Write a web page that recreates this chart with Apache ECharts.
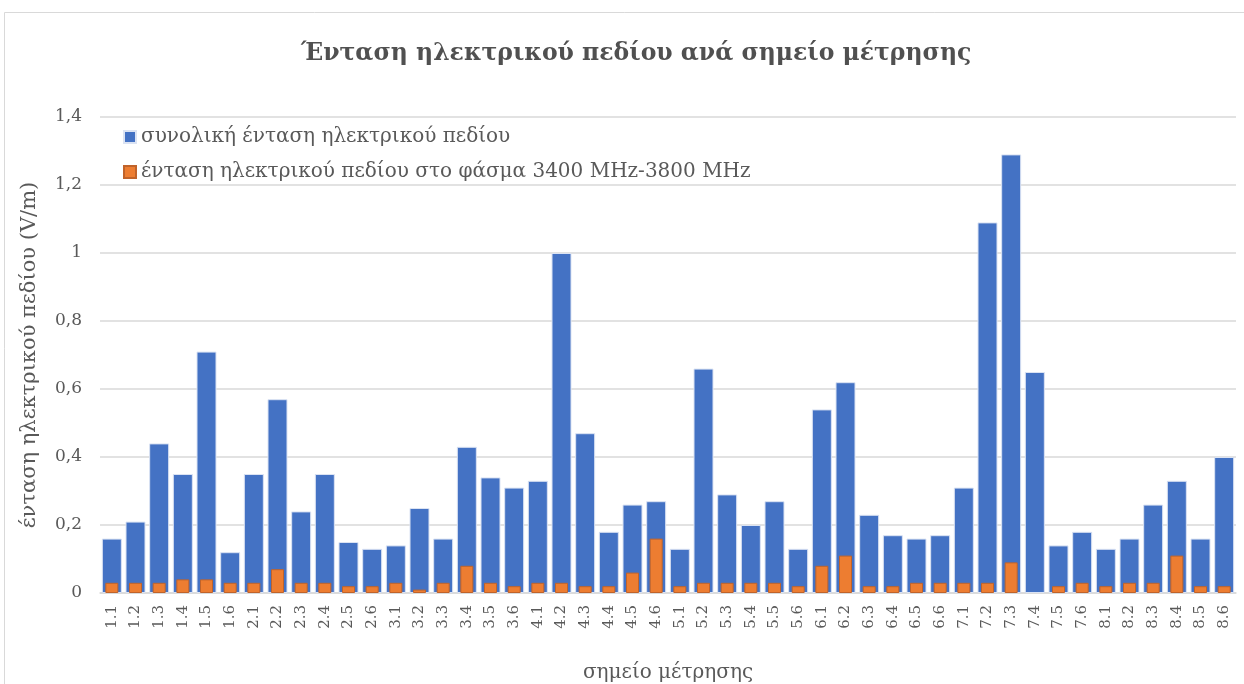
<!DOCTYPE html>
<html>
<head>
<meta charset="utf-8">
<script src="https://cdn.jsdelivr.net/npm/echarts@6/dist/echarts.min.js"></script>
<style>
  html, body { margin: 0; padding: 0; background: #fff; }
  #chart { width: 1244px; height: 684px; }
</style>
</head>
<body>
<div id="chart"></div>
<script>
const points = ["1.1","1.2","1.3","1.4","1.5","1.6","2.1","2.2","2.3","2.4","2.5","2.6",
  "3.1","3.2","3.3","3.4","3.5","3.6","4.1","4.2","4.3","4.4","4.5","4.6",
  "5.1","5.2","5.3","5.4","5.5","5.6","6.1","6.2","6.3","6.4","6.5","6.6",
  "7.1","7.2","7.3","7.4","7.5","7.6","8.1","8.2","8.3","8.4","8.5","8.6"]

const totalField = [0.16,0.21,0.44,0.35,0.71,0.12,0.35,0.57,0.24,0.35,0.15,0.13,
  0.14,0.25,0.16,0.43,0.34,0.31,0.33,1.00,0.47,0.18,0.26,0.27,
  0.13,0.66,0.29,0.20,0.27,0.13,0.54,0.62,0.23,0.17,0.16,0.17,
  0.31,1.09,1.29,0.65,0.14,0.18,0.13,0.16,0.26,0.33,0.16,0.40]

// 7.4 has no band value in the picture
const bandField = [0.03,0.03,0.03,0.04,0.04,0.03,0.03,0.07,0.03,0.03,0.02,0.02,
  0.03,0.01,0.03,0.08,0.03,0.02,0.03,0.03,0.02,0.02,0.06,0.16,
  0.02,0.03,0.03,0.03,0.03,0.02,0.08,0.11,0.02,0.02,0.03,0.03,
  0.03,0.03,0.09,null,0.02,0.03,0.02,0.03,0.03,0.11,0.02,0.02]

const seriesNames = ["συνολική ένταση ηλεκτρικού πεδίου",
  "ένταση ηλεκτρικού πεδίου στο φάσμα 3400 MHz-3800 MHz"]

const serif = "DejaVu Serif"
const textGray = "#595959"

let myChart = echarts.init(document.getElementById("chart"))
myChart.setOption({
    animation: false,
    backgroundColor: "#fff",
    graphic: [{
        type: "rect",
        shape: { x: 4.5, y: 12.5, width: 1400, height: 800 },
        style: { fill: "none", stroke: "#d9d9d9", lineWidth: 1 },
        silent: true,
    }],
    title: {
        text: "Ένταση ηλεκτρικού πεδίου ανά σημείο μέτρησης",
        left: 296,
        top: 37,
        textStyle: { fontFamily: serif, fontSize: 23.5, fontWeight: "bold", color: "#505050" },
    },
    legend: {
        orient: "vertical",
        left: 118,
        top: 122,
        itemWidth: 12,
        itemHeight: 12,
        itemGap: 15,
        icon: "rect",
        textStyle: { fontFamily: serif, fontSize: 20, color: textGray },
        data: seriesNames,
    },
    grid: { left: 100, right: 8, top: 117, bottom: 91, outerBoundsMode: "none", containLabel: false },
    xAxis: [
        {
            type: "category",
            data: points,
            name: "σημείο μέτρησης",
            nameLocation: "middle",
            nameGap: 70,
            nameTextStyle: { fontFamily: serif, fontSize: 20, color: textGray },
            axisLine: { lineStyle: { color: "#d9d9d9", width: 1.5 } },
            axisTick: { show: false },
            axisLabel: {
                rotate: 90,
                margin: 12,
                fontFamily: serif,
                fontSize: 15,
                color: textGray,
            },
        },
        {
            type: "category",
            data: points,
            show: false,
        },
    ],
    yAxis: {
        type: "value",
        min: 0,
        max: 1.4,
        interval: 0.2,
        name: "ένταση ηλεκτρικού πεδίου (V/m)",
        nameLocation: "middle",
        nameGap: 60,
        nameTextStyle: { fontFamily: serif, fontSize: 21, color: textGray },
        axisLine: { show: false },
        axisTick: { show: false },
        splitLine: { lineStyle: { color: "#d9d9d9", width: 1.5 } },
        axisLabel: {
            margin: 18,
            fontFamily: serif,
            fontSize: 17,
            color: textGray,
            formatter: (v) => String(Math.round(v * 10) / 10).replace(".", ","),
        },
    },
    series: [
        {
            name: seriesNames[0],
            type: "bar",
            xAxisIndex: 0,
            barWidth: 20,
            itemStyle: { color: "#4472c4", borderColor: "#dbe3f3", borderWidth: 1 },
            data: totalField,
        },
        {
            name: seriesNames[1],
            type: "bar",
            xAxisIndex: 1,
            barWidth: 13,
            z: 3,
            itemStyle: { color: "#ed7d31", borderColor: "#c0632a", borderWidth: 1 },
            data: bandField,
        },
    ],
})
</script>
</body>
</html>
